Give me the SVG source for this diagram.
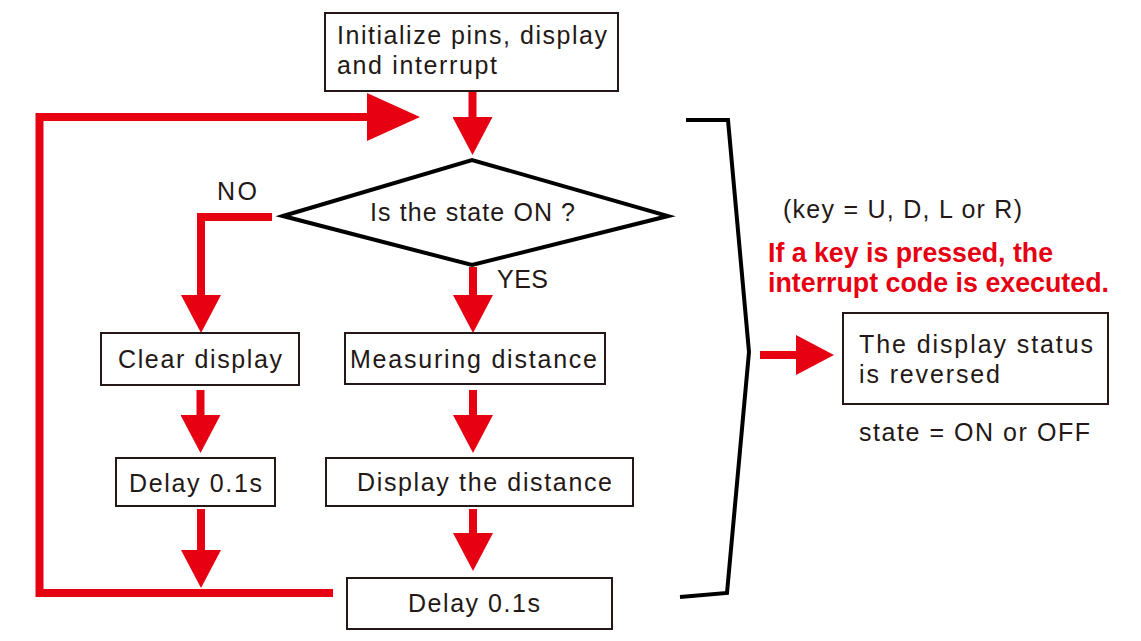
<svg xmlns="http://www.w3.org/2000/svg" width="1141" height="641" viewBox="0 0 1141 641">
<style>
.box{fill:#fff;stroke:#231815;stroke-width:2}
.dia{fill:#fff;stroke:#000;stroke-width:4;stroke-linejoin:miter}
.t{font-family:"Liberation Sans",Arial,sans-serif;font-size:25px;fill:#231815}
.r{font-family:"Liberation Sans",Arial,sans-serif;font-size:27px;font-weight:bold;fill:#e60012}
.c{fill:none;stroke:#e60012;stroke-width:8;stroke-linecap:butt;stroke-linejoin:miter}
.br{fill:none;stroke:#000;stroke-width:4;stroke-linejoin:miter}
</style>
<defs>
<marker id="ah" markerUnits="userSpaceOnUse" markerWidth="38" markerHeight="40" refX="1" refY="20" orient="auto" viewBox="0 0 38 40">
<path d="M0,0 L38,20 L0,40 Z" fill="#e60012"/>
</marker>
<marker id="ahb" markerUnits="userSpaceOnUse" markerWidth="53" markerHeight="48" refX="1" refY="24" orient="auto" viewBox="0 0 53 48">
<path d="M0,0 L53,24 L0,48 Z" fill="#e60012"/>
</marker>
</defs>
<rect width="1141" height="641" fill="#fff"/>

<g id="connectors">
<path class="c" d="M472.5,91 V118" marker-end="url(#ah)"/>
<path class="c" d="M473,267 V296" marker-end="url(#ah)"/>
<path class="c" d="M473,390 V416" marker-end="url(#ah)"/>
<path class="c" d="M473,509 V534" marker-end="url(#ah)"/>
<path class="c" d="M272,217 H201 V296" marker-end="url(#ah)"/>
<path class="c" d="M200.5,390 V416" marker-end="url(#ah)"/>
<path class="c" d="M201,509 V551" marker-end="url(#ah)"/>
<path class="c" d="M333,593 H39.5 V117 H368" marker-end="url(#ahb)"/>
<path class="c" d="M760,355 H797" marker-end="url(#ah)"/>
</g>

<g id="bracket">
<polyline class="br" points="686,120 728,120 749,352 727,593 680,597"/>
</g>

<g id="init">
<rect class="box" x="325" y="13" width="293" height="78"/>
<text class="t" x="337" y="44" textLength="270" lengthAdjust="spacing">Initialize pins, display</text>
<text class="t" x="337" y="74" textLength="160" lengthAdjust="spacing">and interrupt</text>
</g>

<g id="decision">
<polygon class="dia" points="283,216 472,160 668,216 472,265"/>
<text class="t" x="370" y="221" textLength="205" lengthAdjust="spacing">Is the state ON ?</text>
</g>

<g id="label-no">
<text class="t" x="217" y="200" textLength="40" lengthAdjust="spacing">NO</text>
</g>
<g id="label-yes">
<text class="t" x="497" y="288" textLength="51" lengthAdjust="spacing">YES</text>
</g>

<g id="clear">
<rect class="box" x="101" y="333" width="198" height="52"/>
<text class="t" x="118" y="368" textLength="164" lengthAdjust="spacing">Clear display</text>
</g>

<g id="delay-left">
<rect class="box" x="116" y="458" width="159" height="48"/>
<text class="t" x="129" y="492" textLength="133" lengthAdjust="spacing">Delay 0.1s</text>
</g>

<g id="measure">
<rect class="box" x="345" y="333" width="260" height="51"/>
<text class="t" x="350" y="368" textLength="247" lengthAdjust="spacing">Measuring distance</text>
</g>

<g id="show">
<rect class="box" x="326" y="458" width="307" height="48"/>
<text class="t" x="357" y="491" textLength="255" lengthAdjust="spacing">Display the distance</text>
</g>

<g id="delay-bottom">
<rect class="box" x="347" y="578" width="265" height="51"/>
<text class="t" x="408" y="612" textLength="132" lengthAdjust="spacing">Delay 0.1s</text>
</g>

<g id="interrupt-notes">
<text class="t" x="783" y="218" textLength="239" lengthAdjust="spacing">(key = U, D, L or R)</text>
<text class="r" x="768" y="262" textLength="285" lengthAdjust="spacingAndGlyphs">If a key is pressed, the</text>
<text class="r" x="768" y="292" textLength="341" lengthAdjust="spacingAndGlyphs">interrupt code is executed.</text>
</g>

<g id="reverse">
<rect class="box" x="843" y="313" width="265" height="91"/>
<text class="t" x="859" y="353" textLength="234" lengthAdjust="spacing">The display status</text>
<text class="t" x="859" y="383" textLength="141" lengthAdjust="spacing">is reversed</text>
</g>

<g id="state-note">
<text class="t" x="859" y="441" textLength="231" lengthAdjust="spacing">state = ON or OFF</text>
</g>
</svg>
